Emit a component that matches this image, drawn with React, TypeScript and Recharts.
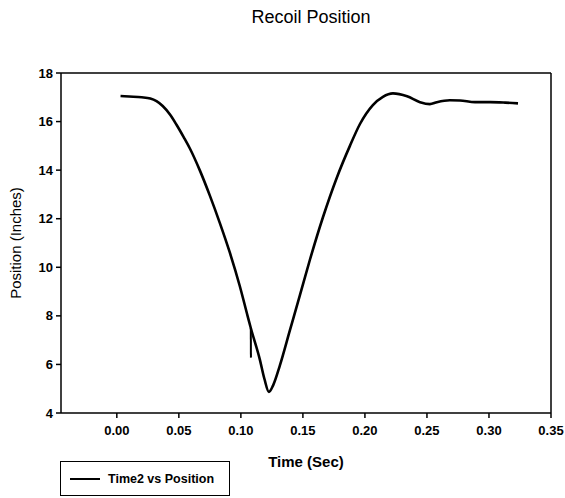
import React from "react";
import { LineChart, Line, XAxis, YAxis, ReferenceLine } from "recharts";

// Time (sec)
const times = [
  0.003, 0.01, 0.02, 0.027, 0.032, 0.037, 0.043, 0.048, 0.054, 0.059, 0.067, 0.075, 0.083,
  0.091, 0.099, 0.1055, 0.108, 0.1153, 0.119, 0.1226, 0.126, 0.1314, 0.1395, 0.1476, 0.1556,
  0.1661, 0.1774, 0.1879, 0.196, 0.2064, 0.2145, 0.2226, 0.234, 0.2444, 0.2524, 0.258, 0.2685,
  0.2766, 0.2887, 0.301, 0.313, 0.3234,
];

// Position (inches)
const positions = [
  17.05, 17.03, 17.0, 16.95, 16.84, 16.64, 16.28, 15.88, 15.35, 14.88, 13.98, 12.95, 11.83,
  10.62, 9.25, 7.98, 7.5, 6.2, 5.4, 4.87, 5.14, 5.95, 7.4, 8.85, 10.3, 12.05, 13.7, 15.0,
  15.9, 16.68, 17.02, 17.16, 17.04, 16.8, 16.72, 16.8, 16.88, 16.87, 16.8, 16.8, 16.78, 16.75,
];

// short glitch in the trace near t = 0.108
const glitchTimes = [0.108, 0.1081];
const glitchPositions = [7.5, 6.28];

const xTicks = [0, 0.05, 0.1, 0.15, 0.2, 0.25, 0.3, 0.35];
const yTicks = [4, 6, 8, 10, 12, 14, 16, 18];

const data = times.map((t, i) => ({ time: t, position: positions[i] }));
const glitch = glitchTimes.map((t, i) => ({ time: t, position: glitchPositions[i] }));

const FONT = "'Liberation Sans', Arial, sans-serif";
const tickStyle = { fontFamily: FONT, fontSize: 13, fontWeight: 700, fill: "#000" };

export default function App() {
  return (
    <div style={{ position: "absolute", left: 0, top: 0, width: 565, height: 498, background: "#fff", fontFamily: FONT }}>
      <div
        style={{
          position: "absolute",
          left: 0,
          top: 8,
          width: 622,
          textAlign: "center",
          fontSize: 18,
          lineHeight: "18px",
          color: "#000",
        }}
      >
        Recoil Position
      </div>
      <LineChart
        width={565}
        height={498}
        data={data}
        margin={{ top: 73, right: 14, bottom: 55, left: 5 }}
      >
        <XAxis
          dataKey="time"
          type="number"
          domain={[-0.045, 0.35]}
          allowDataOverflow
          ticks={xTicks}
          tickFormatter={(v: number) => v.toFixed(2)}
          tick={tickStyle}
          tickSize={5}
          tickMargin={8}
          height={30}
          stroke="#000"
          strokeWidth={1.5}
          label={{
            value: "Time (Sec)",
            position: "bottom",
            offset: 13,
            style: { fontFamily: FONT, fontSize: 15, fontWeight: 700, fill: "#000" },
          }}
        />
        <YAxis
          type="number"
          domain={[4, 18]}
          ticks={yTicks}
          tick={tickStyle}
          tickSize={5}
          tickMargin={3}
          width={56}
          stroke="#000"
          strokeWidth={1.5}
          label={{
            value: "Position (Inches)",
            angle: -90,
            position: "insideLeft",
            offset: 11,
            style: { fontFamily: FONT, fontSize: 15, fill: "#000", textAnchor: "middle" },
          }}
        />
        <ReferenceLine y={18} stroke="#000" strokeWidth={1.5} />
        <ReferenceLine x={0.35} stroke="#000" strokeWidth={1.5} />
        <Line
          type="monotone"
          dataKey="position"
          stroke="#000"
          strokeWidth={2.6}
          dot={false}
          isAnimationActive={false}
        />
        <Line
          data={glitch}
          type="linear"
          dataKey="position"
          stroke="#000"
          strokeWidth={2}
          dot={false}
          isAnimationActive={false}
        />
      </LineChart>
      <div
        style={{
          position: "absolute",
          left: 60,
          top: 461,
          width: 168,
          height: 33,
          border: "1px solid #000",
          display: "flex",
          alignItems: "center",
          fontSize: 12.5,
          fontWeight: 700,
          color: "#000",
        }}
      >
        <span style={{ display: "inline-block", width: 30, height: 2, background: "#000", marginLeft: 9, marginRight: 8 }} />
        Time2 vs Position
      </div>
    </div>
  );
}
